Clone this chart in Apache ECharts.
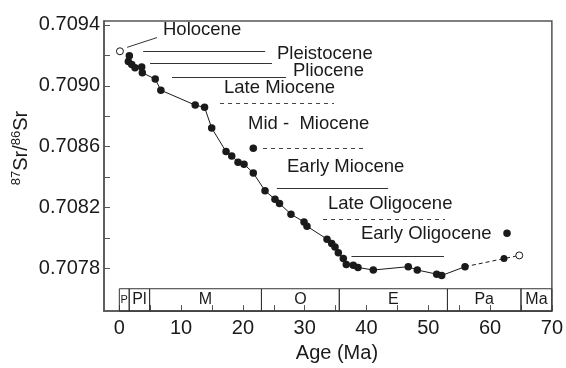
<!DOCTYPE html>
<html>
<head>
<meta charset="utf-8">
<script src="https://cdn.jsdelivr.net/npm/echarts@6/dist/echarts.min.js"></script>
<style>
html, body { margin: 0; padding: 0; background: #fff; }
#chart { width: 566px; height: 368px; }
</style>
</head>
<body>
<div id="chart"></div>
<script>
// Seawater 87Sr/86Sr through the Cenozoic: age (Ma) vs ratio
const srAges = [1.62, 1.46, 2.01, 2.54, 3.62, 3.72, 5.81, 6.72, 12.28, 13.79, 14.95, 17.27, 18.19, 19.21,
  20.18, 21.68, 23.58, 25.19, 25.92, 27.78, 29.89, 30.37, 33.61, 34.37, 34.9, 35.44, 36.25, 36.73,
  37.86, 38.62, 41.1, 46.76, 48.22, 51.36, 52.17, 55.94];
const srValues = [0.709197, 0.709159, 0.709140, 0.709118, 0.709123, 0.709086, 0.709044, 0.708971,
  0.708873, 0.708859, 0.708722, 0.708568, 0.708539, 0.708498, 0.708485, 0.708427, 0.708310, 0.708254,
  0.708226, 0.708156, 0.708105, 0.708077, 0.707992, 0.707964, 0.707941, 0.707902, 0.707864, 0.707826,
  0.707821, 0.707806, 0.707789, 0.707811, 0.707789, 0.707762, 0.707753, 0.707811];

// Uncertain Paleocene tail (dashed), ending in an open-circle value
const tailAges = [55.94, 62.25, 64.72];
const tailValues = [0.707811, 0.707864, 0.707885];

// Open-circle values (modern seawater, latest Cretaceous)
const openAges = [0.1, 64.72];
const openValues = [0.709227, 0.707885];

// Isolated points off the curve
const outlierAges = [21.68, 62.74];
const outlierValues = [0.708589, 0.708030];

// Epoch strip along the age axis
const epochBounds = [0, 1.6, 4.9, 23, 35.6, 53.1, 65, 70];
const epochNames = ['P', 'Pl', 'M', 'O', 'E', 'Pa', 'Ma'];
const epochStripTop = 0.707666;

// Stage resolution bars: [start age, end age, ratio, dashed]
const stageBars = [
  [3.85, 23.6, 0.709227, false],
  [4.97, 24.7, 0.709150, false],
  [8.53, 26.97, 0.709054, false],
  [16.3, 34.74, 0.708888, true],
  [23.25, 39.75, 0.708587, true],
  [25.5, 43.5, 0.708325, false],
  [32.96, 52.7, 0.708126, true],
  [37.57, 52.54, 0.707880, false]
];

// Stage names and where their text starts
const stageNames = ['Holocene', 'Pleistocene', 'Pliocene', 'Late Miocene', 'Mid -  Miocene',
  'Early Miocene', 'Late Oligocene', 'Early Oligocene'];
const stageTextAges = [7.07, 25.52, 28.1, 16.94, 20.83, 27.14, 33.77, 39.1];
const stageTextValues = [0.709368, 0.709208, 0.709099, 0.708984, 0.708747, 0.708466, 0.708222, 0.708024];

// Leader from the Holocene text to the modern value
const holoceneLeader = [[1.26, 0.709253], [6.1, 0.709317]];

const xTickValues = [0, 5, 10, 15, 20, 25, 30, 35, 40, 45, 50, 55, 60, 65, 70];
const xLabelValues = [0, 10, 20, 30, 40, 50, 60, 70];
const yTickValues = [0.7078, 0.7080, 0.7082, 0.7084, 0.7086, 0.7088, 0.7090, 0.7092, 0.7094];
const yLabelValues = [0.7078, 0.7082, 0.7086, 0.7090, 0.7094];

const Y_MIN = 0.707519;
const Y_MAX = 0.709426;

const FONT = '"Liberation Sans", Arial, Helvetica, sans-serif';
const INK = '#1a1a1a';
const AXIS = '#555';

const zip = (a, b) => a.map((v, i) => [v, b[i]]);

const epochAreas = epochNames.map((name, i) => [
  { name: name, xAxis: epochBounds[i], yAxis: epochStripTop,
    label: name === 'P' ? { fontSize: 11 } : {} },
  { xAxis: epochBounds[i + 1], yAxis: Y_MIN }
]);

const barLines = stageBars.map(b => [
  { coord: [b[0], b[2]], lineStyle: { type: b[3] ? [4, 4] : 'solid', color: b[3] ? '#444' : '#333', width: 1 } },
  { coord: [b[1], b[2]] }
]);
barLines.push([
  { coord: holoceneLeader[0], lineStyle: { type: 'solid', color: '#333', width: 1 } },
  { coord: holoceneLeader[1] }
]);

const chart = echarts.init(document.getElementById('chart'), null, { renderer: 'canvas' });

chart.setOption({
  animation: false,
  backgroundColor: '#fff',
  textStyle: { fontFamily: FONT },
  grid: { left: 104, right: 14, top: 21, bottom: 49, show: true, borderColor: AXIS, borderWidth: 1.5 },
  xAxis: {
    type: 'value',
    min: -2.48,
    max: 70,
    name: 'Age (Ma)',
    nameLocation: 'middle',
    nameGap: 30,
    nameTextStyle: { fontSize: 20, color: INK, fontFamily: FONT, padding: [0, 0, 0, 18] },
    axisLine: { show: true, onZero: false, lineStyle: { color: AXIS, width: 1.5 } },
    axisTick: { show: true, inside: true, length: 6, customValues: xTickValues, lineStyle: { color: AXIS, width: 1 } },
    axisLabel: { customValues: xLabelValues, fontSize: 20, color: INK, margin: 7, fontFamily: FONT },
    splitLine: { show: false }
  },
  yAxis: {
    type: 'value',
    min: Y_MIN,
    max: Y_MAX,
    axisLine: { show: true, onZero: false, lineStyle: { color: AXIS, width: 1.5 } },
    axisTick: { show: true, inside: true, length: 6, customValues: yTickValues, lineStyle: { color: AXIS, width: 1 } },
    axisLabel: {
      customValues: yLabelValues, fontSize: 20, color: INK, margin: 4, fontFamily: FONT,
      formatter: v => v.toFixed(4)
    },
    splitLine: { show: false }
  },
  graphic: [{
    type: 'text',
    x: 21,
    y: 148,
    rotation: Math.PI / 2,
    style: {
      text: '{s|87}{n|Sr/}{s|86}{n|Sr}',
      align: 'center',
      verticalAlign: 'middle',
      fill: INK,
      rich: {
        n: { fontSize: 20, fontFamily: FONT, fill: INK },
        s: { fontSize: 13, fontFamily: FONT, fill: INK, padding: [0, 0, 10, 0] }
      }
    }
  }],
  series: [
    {
      // epoch strip and stage bars
      type: 'line',
      data: [],
      silent: true,
      markArea: {
        silent: true,
        itemStyle: { color: 'rgba(0,0,0,0)', borderColor: '#333', borderWidth: 1 },
        label: { show: true, position: 'inside', color: INK, fontSize: 16, fontFamily: FONT },
        data: epochAreas
      },
      markLine: {
        silent: true,
        symbol: ['none', 'none'],
        label: { show: false },
        lineStyle: { color: '#333', width: 1 },
        data: barLines
      }
    },
    {
      type: 'scatter',
      data: stageNames.map((n, i) => [stageTextAges[i], stageTextValues[i], n]),
      symbolSize: 0,
      silent: true,
      itemStyle: { opacity: 1 },
      label: {
        show: true,
        position: 'right',
        distance: 0,
        fontSize: 18.5,
        color: INK,
        fontFamily: FONT,
        formatter: p => p.data[2]
      }
    },
    {
      type: 'line',
      data: zip(tailAges, tailValues),
      symbol: (val, p) => (p.dataIndex === 1 ? 'circle' : 'none'),
      symbolSize: 7,
      showSymbol: true,
      itemStyle: { color: INK },
      lineStyle: { color: INK, width: 1, type: [4, 3] }
    },
    {
      type: 'line',
      data: zip(srAges, srValues),
      symbol: 'circle',
      symbolSize: 7.5,
      showSymbol: true,
      itemStyle: { color: INK },
      lineStyle: { color: INK, width: 1 }
    },
    {
      type: 'scatter',
      data: zip(outlierAges, outlierValues),
      symbol: 'circle',
      symbolSize: 7.5,
      itemStyle: { color: INK, opacity: 1 }
    },
    {
      type: 'scatter',
      data: zip(openAges, openValues),
      symbol: 'circle',
      symbolSize: 7,
      z: 5,
      itemStyle: { color: '#fff', borderColor: INK, borderWidth: 1, opacity: 1 }
    }
  ]
});
</script>
</body>
</html>
